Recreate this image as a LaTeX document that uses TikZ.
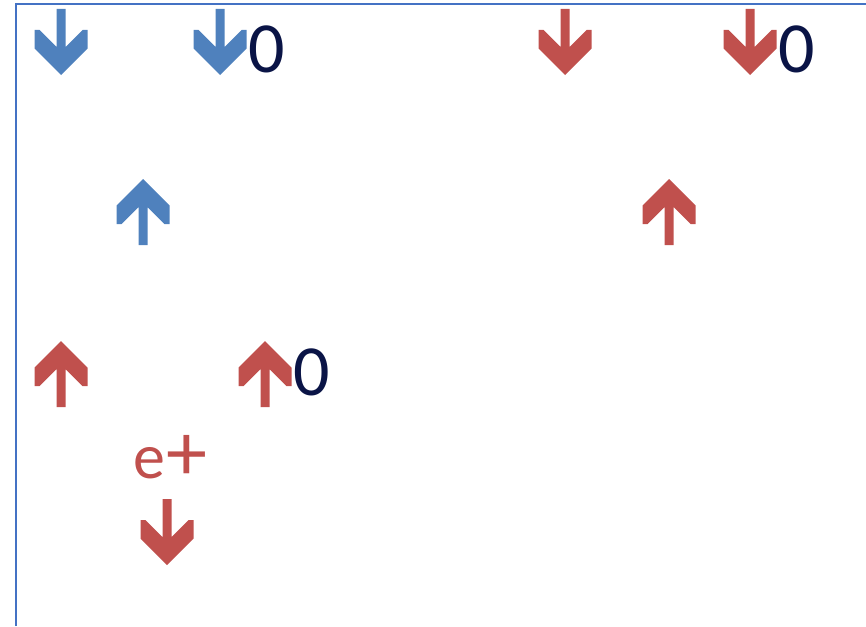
\documentclass[tikz,border=0pt]{standalone}
\usepackage{fontspec}
\setmainfont{Carlito}
\definecolor{abl}{HTML}{4F81BD}
\definecolor{ared}{HTML}{C0504D}
\definecolor{framec}{HTML}{4472C4}
\definecolor{zeroc}{HTML}{0A1446}
\tikzset{
  pics/dnarrow/.style={code={\fill[#1] (-4.5,0) -- (4.5,0) -- (4.5,38) -- (21.5,21) -- (26.5,21) -- (26.5,39.5) -- (0,66) -- (-26.5,39.5) -- (-26.5,21) -- (-21.5,21) -- (-4.5,38) -- cycle;}},
  pics/uparrow/.style={code={\fill[#1] (-4.5,66) -- (4.5,66) -- (4.5,28) -- (21.5,45) -- (26.5,45) -- (26.5,26.5) -- (0,0) -- (-26.5,26.5) -- (-26.5,45) -- (-21.5,45) -- (-4.5,28) -- cycle;}},
  zerolbl/.style={inner sep=0pt, anchor=base west, text=zeroc, font=\fontsize{72}{72}\selectfont},
  eplbl/.style={inner sep=0pt, anchor=base west, text=ared, font=\fontsize{64}{64}\selectfont},
}
\begin{document}
\begin{tikzpicture}[x=1pt,y=-1pt]
\useasboundingbox (0,0) rectangle (866,626);
\draw[framec, line width=1.8pt, line join=miter] (15.8,626) -- (15.8,4.2) -- (866,4.2);
% top row
\coordinate (bd1) at (61,9);
\coordinate (bd2) at (220,9);
\coordinate (rd1) at (565,9);
\coordinate (rd2) at (750,9);
\pic at (bd1) {dnarrow=abl};
\pic at (bd2) {dnarrow=abl};
\pic at (rd1) {dnarrow=ared};
\pic at (rd2) {dnarrow=ared};
\node[zerolbl] (z1) at (248,72) {0};
\node[zerolbl] (z2) at (778,72) {0};
% middle row
\coordinate (bu1) at (143,179);
\coordinate (ru1) at (669,179);
\pic at (bu1) {uparrow=abl};
\pic at (ru1) {uparrow=ared};
% lower row
\coordinate (ru2) at (61,341);
\coordinate (ru3) at (265,341);
\pic at (ru2) {uparrow=ared};
\pic at (ru3) {uparrow=ared};
\node[zerolbl] (z3) at (293,395) {0};
\node[eplbl] (ep) at (133,478) {e\kern1pt{\fontsize{82}{82}\selectfont\raisebox{-2pt}{+}}};
\coordinate (rd3) at (167,499);
\pic at (rd3) {dnarrow=ared};
\end{tikzpicture}
\end{document}
